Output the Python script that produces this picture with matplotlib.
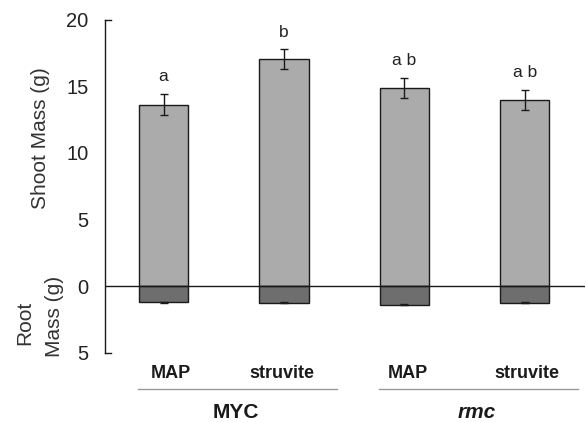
import matplotlib.pyplot as plt
import matplotlib.transforms as mtransforms
import numpy as np

plt.rcParams['font.family'] = ['Liberation Sans', 'DejaVu Sans']

# data
treatments = ["MAP", "struvite", "MAP", "struvite"]
groups = ["MYC", "rmc"]
shoot_mass = [13.6, 17.0, 14.85, 13.95]
shoot_err = [0.8, 0.75, 0.75, 0.75]
root_mass = [1.23, 1.25, 1.4, 1.25]
root_err = [0.04, 0.04, 0.05, 0.04]
letters = ["a", "b", "a b", "a b"]
yticks = [-5, 0, 5, 10, 15, 20]
ytick_labels = ["5", "0", "5", "10", "15", "20"]

x = np.arange(len(treatments))
width = 0.41
ink = "#1a1a1a"

fig = plt.figure(figsize=(5.86, 4.23), dpi=100)
ax = fig.add_axes([105 / 586, 0.1662, 480 / 586, 0.7877])

ax.bar(x, shoot_mass, width, color="#ababab", edgecolor=ink, linewidth=1.0, zorder=2)
ax.errorbar(x, shoot_mass, yerr=shoot_err, fmt="none", ecolor=ink,
            elinewidth=1.0, capsize=3, capthick=1.0, zorder=3)
neg_root = [-r for r in root_mass]
ax.bar(x, neg_root, width, color="#6e6e6e", edgecolor=ink, linewidth=1.0, zorder=2)
ax.errorbar(x, neg_root, yerr=root_err, fmt="none", ecolor=ink,
            elinewidth=1.0, capsize=3, capthick=1.0, zorder=3)

ax.axhline(0, color=ink, linewidth=1.0, zorder=4)

# significance letters
for xi, m, e, lab in zip(x, shoot_mass, shoot_err, letters):
    ax.annotate(lab, (xi, m + e), xytext=(0, 7), textcoords="offset points",
                ha="center", va="bottom", fontsize=12.5, color="#222222")

ax.set_xlim(-0.486, 3.5)
ax.set_ylim(-5, 20)
ax.set_yticks(yticks)
ax.set_yticklabels(ytick_labels, fontsize=14.5, color="#222222")
ax.tick_params(axis="y", length=0, pad=12)
ax.set_xticks([])
for s in ["top", "right", "bottom"]:
    ax.spines[s].set_visible(False)
ax.spines["left"].set_color(ink)
ax.spines["left"].set_linewidth(1.0)
# small end caps on the y axis
ax.plot([0, 0.012], [1, 1], transform=ax.transAxes, color=ink, lw=1.0, clip_on=False)
ax.plot([0, 0.012], [0, 0], transform=ax.transAxes, color=ink, lw=1.0, clip_on=False)

# y labels
fig.text(40 / 586, 1 - 138 / 423, "Shoot Mass (g)", rotation=90, ha="center", va="center",
         fontsize=15, color="#333333")
fig.text(25 / 586, 1 - 323 / 423, "Root", rotation=90, ha="center", va="center",
         fontsize=15, color="#333333")
fig.text(54 / 586, 1 - 316 / 423, "Mass (g)", rotation=90, ha="center", va="center",
         fontsize=15, color="#333333")

# category labels below the axis
trans = mtransforms.blended_transform_factory(ax.transData, fig.transFigure)
label_dx = [0.06, -0.02, 0.03, 0.02]
for xi, dx, t in zip(x, label_dx, treatments):
    ax.text(xi + dx, 1 - 373 / 423, t, transform=trans, ha="center", va="center",
            fontsize=13, fontweight="bold", color=ink)

group_x = [(x[0], x[1]), (x[2], x[3])]
for (a, b), g in zip(group_x, groups):
    ax.plot([a - 0.21, b + 0.44], [1 - 389 / 423] * 2, transform=trans,
            color="#999999", lw=1.0, clip_on=False)
    style = "italic" if g == "rmc" else "normal"
    ax.text((a + b) / 2 + 0.1, 1 - 412 / 423, g, transform=trans, ha="center", va="center",
            fontsize=15, fontweight="bold", fontstyle=style, color=ink)

fig.savefig("out.png", dpi=100)
